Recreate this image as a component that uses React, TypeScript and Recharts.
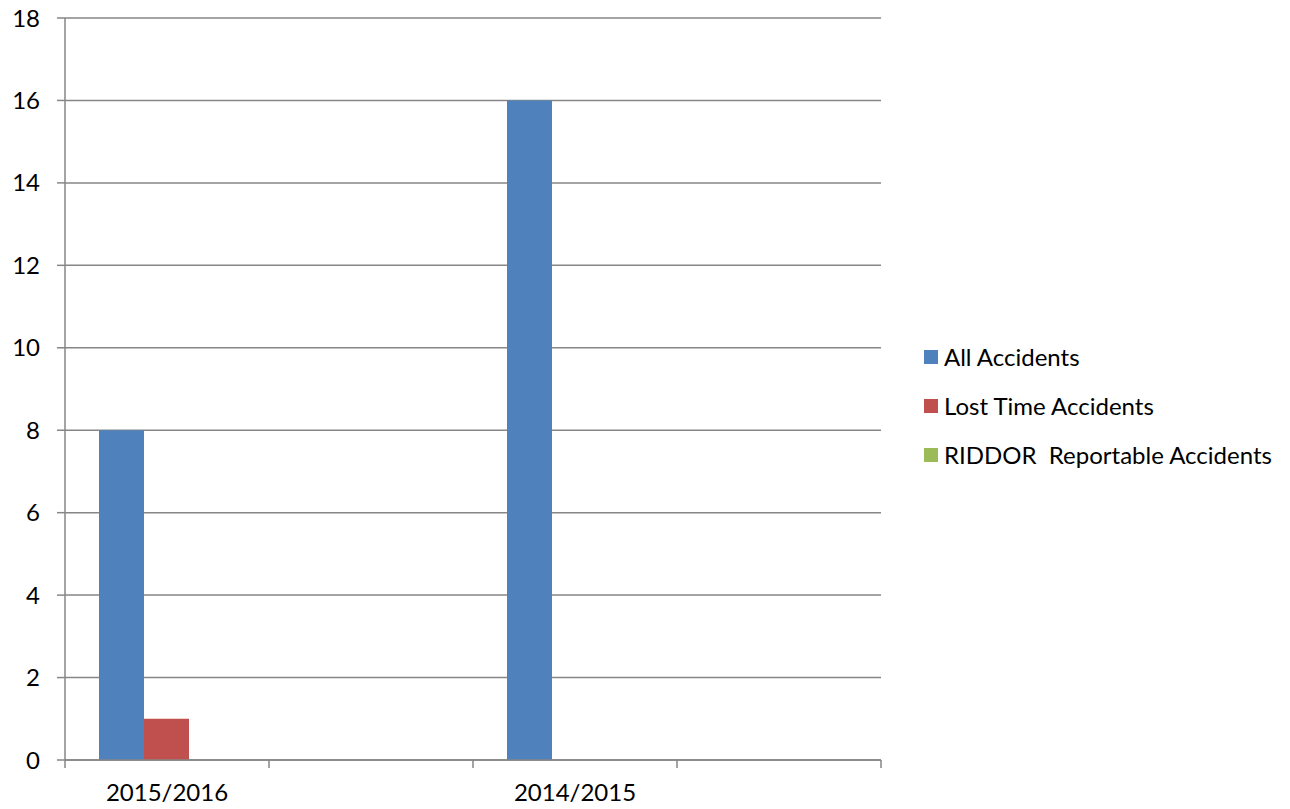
import React from 'react';
import { BarChart, Bar, XAxis, YAxis, CartesianGrid, Legend } from 'recharts';

const categories = ['2015/2016', '', '2014/2015', ''];
const allAccidents = [8, 0, 16, 0];
const lostTimeAccidents = [1, 0, 0, 0];
const riddorAccidents = [0, 0, 0, 0];
const yTicks = [0, 2, 4, 6, 8, 10, 12, 14, 16, 18];

const series = [
  { key: 'all', name: 'All Accidents', color: '#4F81BD' },
  { key: 'lost', name: 'Lost Time Accidents', color: '#C0504D' },
  { key: 'riddor', name: 'RIDDOR  Reportable Accidents', color: '#9BBB59' },
];

const data = categories.map((name, i) => ({
  name,
  all: allAccidents[i],
  lost: lostTimeAccidents[i],
  riddor: riddorAccidents[i],
}));

const WIDTH = 1290;
const HEIGHT = 809;
const LEGEND_WIDTH = 366;
// legend is laid out on the right, recharts adds its width to the right offset
const MARGIN = { top: 18, right: 409 - LEGEND_WIDTH, bottom: 19, left: 0 };
const Y_AXIS_WIDTH = 65;
const X_AXIS_HEIGHT = 30;
const PLOT_LEFT = MARGIN.left + Y_AXIS_WIDTH;
const PLOT_RIGHT = 881;
const PLOT_BOTTOM = HEIGHT - MARGIN.bottom - X_AXIS_HEIGHT;
const BAND = (PLOT_RIGHT - PLOT_LEFT) / categories.length;

const GRID = '#868686';
const FONT = 'Lato, "Noto Sans", sans-serif';

const CategoryTick = (props: any) => {
  const { x, payload, index } = props;
  const half = BAND / 2;
  return (
    <g>
      <line x1={x - half} x2={x - half} y1={PLOT_BOTTOM} y2={PLOT_BOTTOM + 8} stroke={GRID} strokeWidth={1.5} />
      {index === categories.length - 1 && (
        <line x1={x + half} x2={x + half} y1={PLOT_BOTTOM} y2={PLOT_BOTTOM + 8} stroke={GRID} strokeWidth={1.5} />
      )}
      <text x={x} y={PLOT_BOTTOM + 41} textAnchor="middle" fill="#000" fontSize={24} fontFamily={FONT}>
        {payload.value}
      </text>
    </g>
  );
};

const LegendContent = () => (
  <ul style={{ listStyle: 'none', margin: 0, padding: 0, fontFamily: FONT, fontSize: 24, color: '#000' }}>
    {series.map((s) => (
      <li key={s.key} style={{ display: 'flex', alignItems: 'center', height: 49, whiteSpace: 'pre' }}>
        <span style={{ width: 14, height: 14, background: s.color, marginRight: 6, display: 'inline-block' }} />
        <span>{s.name}</span>
      </li>
    ))}
  </ul>
);

export default function App() {
  return (
    <div style={{ position: 'absolute', left: 0, top: 0, background: '#fff' }}>
      <BarChart
        width={WIDTH}
        height={HEIGHT}
        data={data}
        margin={MARGIN}
        barCategoryGap={34}
        barGap={0}
      >
        <CartesianGrid vertical={false} stroke={GRID} strokeWidth={1.5} />
        <XAxis
          dataKey="name"
          height={X_AXIS_HEIGHT}
          axisLine={{ stroke: GRID, strokeWidth: 1.5 }}
          tickLine={false}
          tick={<CategoryTick />}
          interval={0}
        />
        <YAxis
          width={Y_AXIS_WIDTH}
          domain={[0, 18]}
          ticks={yTicks}
          interval={0}
          axisLine={{ stroke: GRID, strokeWidth: 1.5 }}
          tickLine={{ stroke: GRID, strokeWidth: 1.5 }}
          tickSize={8}
          tickMargin={17}
          tick={{ fill: '#000', fontSize: 24, fontFamily: FONT }}
        />
        <Legend
          layout="vertical"
          align="right"
          verticalAlign="middle"
          content={<LegendContent />}
          wrapperStyle={{ position: 'absolute', left: 924, top: 332, width: LEGEND_WIDTH }}
        />
        {series.map((s) => (
          <Bar key={s.key} dataKey={s.key} name={s.name} fill={s.color} isAnimationActive={false} />
        ))}
      </BarChart>
    </div>
  );
}
